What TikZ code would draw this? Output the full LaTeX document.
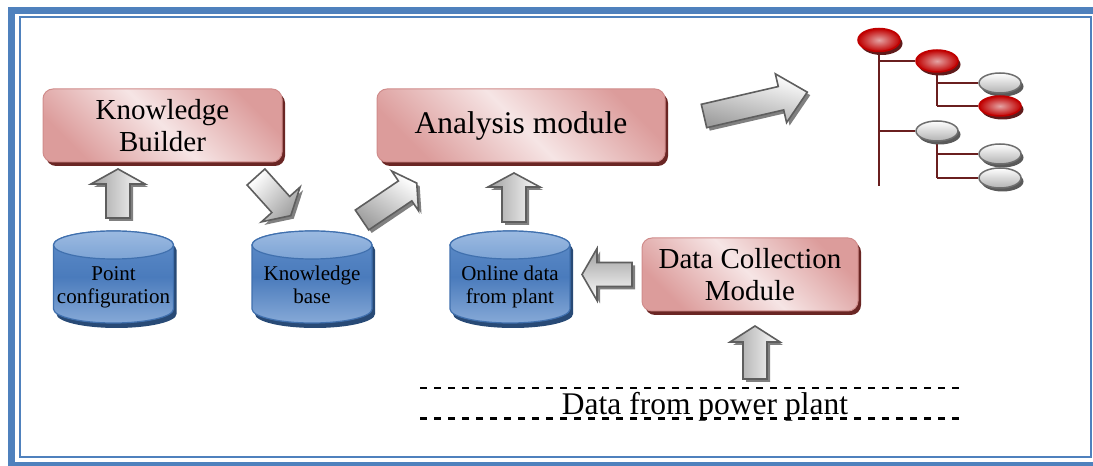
\documentclass[tikz,border=0pt]{standalone}
\usepackage{fontspec}
\setmainfont{Liberation Serif}
\usetikzlibrary{shapes.geometric,shadows,calc}

\definecolor{frameblue}{HTML}{4F81BD}
\definecolor{boxdark}{HTML}{DC9C9B}
\definecolor{boxlight}{HTML}{F6E5E5}
\definecolor{boxedge}{HTML}{D08C8B}
\definecolor{boxshadow}{HTML}{6A2624}
\definecolor{dbedge}{HTML}{4070AE}
\definecolor{dbbodytop}{HTML}{5F8DC9}
\definecolor{dbbodymid}{HTML}{4A7BBC}
\definecolor{dbbodybot}{HTML}{86A9D7}
\definecolor{dbtoptop}{HTML}{9BBAE1}
\definecolor{dbtopbot}{HTML}{7EA4D5}
\definecolor{dbshadow}{HTML}{284A76}
\definecolor{arrowedge}{HTML}{5E5E5E}
\definecolor{arrowgray}{HTML}{9E9E9E}
\definecolor{arrowshade}{HTML}{808080}
\definecolor{treered}{HTML}{C00000}
\definecolor{redhi}{HTML}{E4A4A4}
\definecolor{redshadow}{HTML}{5E1B1B}
\definecolor{grayedge}{HTML}{6E6E6E}
\definecolor{graylow}{HTML}{B2B2B2}
\definecolor{grayshadow}{HTML}{5A5A5A}
\definecolor{treeline}{HTML}{6A1F1F}

\pgfdeclarelayer{bg}
\pgfsetlayers{bg,main}

\tikzset{
  x=1pt, y=1pt,
  modbox/.style={rectangle, rounded corners=10pt, draw=boxedge, line width=1pt,
    top color=boxdark, bottom color=boxdark, middle color=boxlight, shading angle=-45,
    minimum height=73pt, inner sep=0pt, align=center,
    drop shadow={shadow xshift=3pt, shadow yshift=-4pt, fill=boxshadow, opacity=1}},
  dbtext/.style={align=center, inner sep=0pt, font=\fontsize{21}{23}\selectfont},
  dbbody/.style={draw=dbedge, line width=1.2pt, top color=dbbodytop,
    bottom color=dbbodybot, middle color=dbbodymid},
  dbtop/.style={draw=dbedge, line width=1.2pt, top color=dbtoptop, bottom color=dbtopbot},
  arrowface/.style={draw=arrowedge, line width=1.6pt, line join=miter,
    top color=white, bottom color=arrowgray, shading angle=#1},
  arrowshadow/.style={fill=arrowshade},
  redball/.style={ellipse, minimum width=42pt, minimum height=22pt, inner sep=0pt,
    draw=treered, line width=1.5pt, inner color=redhi, outer color=treered,
    drop shadow={shadow xshift=2.5pt, shadow yshift=-3.5pt, fill=redshadow, opacity=1}},
  grayball/.style={ellipse, minimum width=42pt, minimum height=20pt, inner sep=0pt,
    draw=grayedge, line width=1.5pt, top color=white, bottom color=graylow,
    drop shadow={shadow xshift=2.5pt, shadow yshift=-3.5pt, fill=grayshadow, opacity=1}},
  branch/.style={draw=treeline, line width=1.6pt},
  dashline/.style={draw=black, line width=2.4pt, dash pattern=on 7pt off 7pt},
  % database cylinder centred on the pic origin
  pics/dbcyl/.style={code={
    \fill[dbshadow] (-57,27) -- (-57,-37) arc (180:360:60 and 14) -- (63,27)
      arc (0:180:60 and 14) -- cycle;
    \path[dbbody] (-60,32) -- (-60,-32) arc (180:360:60 and 14) -- (60,32)
      arc (0:180:60 and 14) -- cycle;
    \path[dbtop] (0,32) ellipse (60 and 14);
  }},
  % block arrow: length / head length / head half-width / style, tail at origin
  pics/blockarrow/.style n args={4}{code={
    \path[#4] (0,-12) -- ({#1-#2},-12) -- ({#1-#2},-#3) -- (#1,0) -- ({#1-#2},#3)
      -- ({#1-#2},12) -- (0,12) -- cycle;
  }},
}

\begin{document}
\begin{tikzpicture}
\useasboundingbox (0,0) rectangle (1093,466);
\begin{pgfonlayer}{bg}
  \fill[white] (0,0) rectangle (1093,466);
\end{pgfonlayer}

% modules
\node[modbox, minimum width=239pt, font=\fontsize{29}{31.5}\selectfont]
  (kbuild) at (162.5,340.5) {Knowledge\\Builder};
\node[modbox, minimum width=288pt, font=\fontsize{31.5}{34}\selectfont]
  (anmod) at (521,340.5) {Analysis module};
\node[modbox, minimum width=216pt, font=\fontsize{29}{31.5}\selectfont]
  (dcm) at (750,191.5) {Data Collection\\Module};

% databases
\pic at (113.5,189) {dbcyl};
\node[dbtext] (pconf) at (113.5,178.5) {Point\\configuration};
\pic at (312,189) {dbcyl};
\node[dbtext] (kbase) at (312,181) {Knowledge\\base};
\pic at (510,189) {dbcyl};
\node[dbtext] (online) at (510,179.5) {Online data\\from plant};

% block arrows (shadow first, then face)
\pic[rotate=90] at (121,245) {blockarrow={49}{15}{27}{arrowshadow}};
\pic[rotate=90] at (118,248) {blockarrow={49}{15}{27}{arrowface=-90}};

\pic[rotate=-48] at (259,286) {blockarrow={52}{15}{26}{arrowshadow}};
\pic[rotate=-48] at (256,289) {blockarrow={52}{15}{26}{arrowface=48}};

\pic[rotate=34] at (365,243) {blockarrow={66}{14}{24}{arrowshadow}};
\pic[rotate=34] at (362,246) {blockarrow={66}{14}{24}{arrowface=-34}};

\pic[rotate=90] at (517,241) {blockarrow={49}{14}{26}{arrowshadow}};
\pic[rotate=90] at (514,244) {blockarrow={49}{14}{26}{arrowface=-90}};

\pic[rotate=180] at (635,188.5) {blockarrow={50}{15}{26}{arrowshadow}};
\pic[rotate=180] at (632,191.5) {blockarrow={50}{15}{26}{arrowface=-180}};

\pic[rotate=90] at (758,84) {blockarrow={53}{16}{25}{arrowshadow}};
\pic[rotate=90] at (755,87) {blockarrow={53}{16}{25}{arrowface=-90}};

\pic[rotate=13] at (707,347) {blockarrow={106}{27}{25}{arrowshadow}};
\pic[rotate=13] at (704,350) {blockarrow={106}{27}{25}{arrowface=-13}};

% tree of results
\node[redball, minimum height=23pt] (e1) at (879,426) {};
\node[redball] (e2) at (937,405) {};
\node[grayball] (e3) at (1000,383) {};
\node[redball, minimum height=20pt] (e4) at (1000,360) {};
\node[grayball] (e5) at (937,335) {};
\node[grayball] (e6) at (1000,312) {};
\node[grayball] (e7) at (1000,288) {};
\coordinate (trunkend) at (879,280);
\begin{pgfonlayer}{bg}
  \draw[branch] (e1.south) -- (trunkend);
  \draw[branch] (e1.south |- e2.west) -- (e2.west);
  \draw[branch] (e1.south |- e5.west) -- (e5.west);
  \draw[branch] (e2.south) -- (e2.south |- e4.west);
  \draw[branch] (e2.south |- e3.west) -- (e3.west);
  \draw[branch] (e2.south |- e4.west) -- (e4.west);
  \draw[branch] (e5.south) -- (e5.south |- e7.west);
  \draw[branch] (e5.south |- e6.west) -- (e6.west);
  \draw[branch] (e5.south |- e7.west) -- (e7.west);
\end{pgfonlayer}

% plant data band
\coordinate (da1) at (420,78);
\coordinate (da2) at (962,78);
\coordinate (db1) at (420,47.5);
\coordinate (db2) at (962,47.5);
\draw[dashline] (da1) -- (da2);
\draw[dashline] (db1) -- (db2);
\node[inner sep=0pt, font=\fontsize{31.5}{34}\selectfont] (plant) at (705,59.5)
  {Data from power plant};

% page frame
\begin{scope}
  \clip (0,0) rectangle (1093,466);
  \draw[frameblue, line width=7pt] (11.5,455) rectangle (1100,0.8);
  \draw[frameblue, line width=2pt] (19.5,448.5) rectangle (1091.3,8.7);
\end{scope}
\end{tikzpicture}
\end{document}
